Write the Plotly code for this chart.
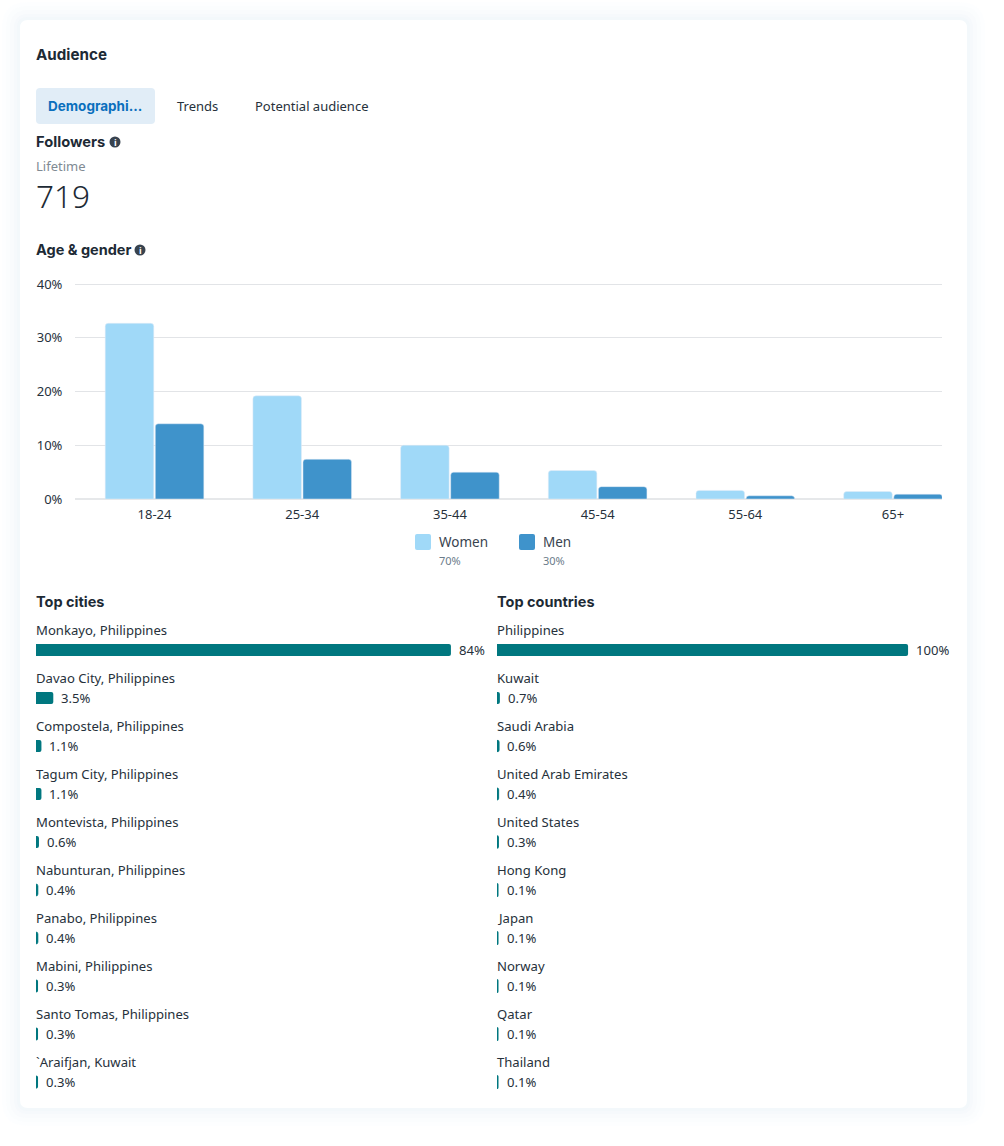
import plotly.graph_objects as go

W, H = 1004, 1146

age_groups = ["18-24", "25-34", "35-44", "45-54", "55-64", "65+"]
women = [32.7, 19.2, 10.0, 5.3, 1.6, 1.4]
men = [14.0, 7.4, 5.0, 2.3, 0.6, 0.9]

cities = ["Monkayo, Philippines", "Davao City, Philippines", "Compostela, Philippines",
          "Tagum City, Philippines", "Montevista, Philippines", "Nabunturan, Philippines",
          "Panabo, Philippines", "Mabini, Philippines", "Santo Tomas, Philippines",
          "`Araifjan, Kuwait"]
city_values = [84, 3.5, 1.1, 1.1, 0.6, 0.4, 0.4, 0.3, 0.3, 0.3]
city_labels = ["84%", "3.5%", "1.1%", "1.1%", "0.6%", "0.4%", "0.4%", "0.3%", "0.3%", "0.3%"]

countries = ["Philippines", "Kuwait", "Saudi Arabia", "United Arab Emirates", "United States",
             "Hong Kong", "Japan", "Norway", "Qatar", "Thailand"]
country_values = [100, 0.7, 0.6, 0.4, 0.3, 0.1, 0.1, 0.1, 0.1, 0.1]
country_labels = ["100%", "0.7%", "0.6%", "0.4%", "0.3%", "0.1%", "0.1%", "0.1%", "0.1%", "0.1%"]

TEXT = "#26313b"
BODY = "Noto Sans"
HEAD = "Inter"
TEAL = "#00777f"

CITY_RANGE = 91.1
COUNTRY_RANGE = 110.2
CITY_PX = 450 / CITY_RANGE
COUNTRY_PX = 453 / COUNTRY_RANGE
MIN_BAR = 2.0
STROKE_MIN = 2.6


def px(x):
    return x / W


def py(y):
    return 1 - y / H


def round_rect(x0, y0, x1, y1, r):
    return (f"M {px(x0+r)} {py(y0)} L {px(x1-r)} {py(y0)} Q {px(x1)} {py(y0)} {px(x1)} {py(y0+r)} "
            f"L {px(x1)} {py(y1-r)} Q {px(x1)} {py(y1)} {px(x1-r)} {py(y1)} "
            f"L {px(x0+r)} {py(y1)} Q {px(x0)} {py(y1)} {px(x0)} {py(y1-r)} "
            f"L {px(x0)} {py(y0+r)} Q {px(x0)} {py(y0)} {px(x0+r)} {py(y0)} Z")


def pad_for_min_width(values, scale, minimum=MIN_BAR):
    return [max(0.0, minimum - v * scale) for v in values]


fig = go.Figure()

fig.add_trace(go.Bar(name="Women", x=age_groups, y=women, marker_color="#a0d9f8",
                     xaxis="x", yaxis="y", showlegend=False))
fig.add_trace(go.Bar(name="Men", x=age_groups, y=men, marker_color="#3f93cb",
                     xaxis="x", yaxis="y", showlegend=False))
fig.add_trace(go.Bar(name="Top cities", y=cities, x=city_values, orientation="h",
                     marker=dict(color=TEAL, cornerradius=2,
                                 line=dict(color=TEAL, width=pad_for_min_width(city_values, CITY_PX, STROKE_MIN))),
                     width=0.25, xaxis="x2", yaxis="y2", showlegend=False))
fig.add_trace(go.Bar(name="Top countries", y=countries, x=country_values, orientation="h",
                     marker=dict(color=TEAL, cornerradius=2,
                                 line=dict(color=TEAL, width=pad_for_min_width(country_values, COUNTRY_PX, STROKE_MIN))),
                     width=0.25, xaxis="x3", yaxis="y3", showlegend=False))

shapes = []
for grow, op in [(18, 0.07), (14, 0.08), (10, 0.10), (6, 0.12), (3, 0.16)]:
    shapes.append(dict(type="path", path=round_rect(20 - grow, 20 - grow, 967 + grow, 1108 + grow, 8 + grow),
                       xref="paper", yref="paper", fillcolor=f"rgba(232,240,248,{op})",
                       line_width=0, layer="below"))
shapes.append(dict(type="path", path=round_rect(20, 20, 967, 1108, 8), xref="paper", yref="paper",
                   fillcolor="#ffffff", line_width=0, layer="below"))
shapes.append(dict(type="path", path=round_rect(36, 88, 155, 124, 4), xref="paper", yref="paper",
                   fillcolor="#e1edf7", line_width=0, layer="below"))
for x0, c in [(415, "#a0d9f8"), (519, "#3f93cb")]:
    shapes.append(dict(type="path", path=round_rect(x0, 534, x0 + 16, 550, 2), xref="paper", yref="paper",
                       fillcolor=c, line_width=0, layer="below"))

annotations = []


def label(x, y, text, size=13, color=TEXT, family=BODY, weight=None, anchor="left"):
    annotations.append(dict(xref="paper", yref="paper", x=px(x), y=py(y), text=text, showarrow=False,
                            xanchor=anchor, yanchor="middle", align="left",
                            font=dict(size=size, color=color, family=family, weight=weight or "normal"),
                            borderpad=0, borderwidth=0))


def info_icon(cx, cy):
    shapes.append(dict(type="circle", xref="paper", yref="paper", x0=px(cx - 5.5), x1=px(cx + 5.5),
                       y0=py(cy + 5.5), y1=py(cy - 5.5), fillcolor="#38434f", line_width=0))
    label(cx, cy, "i", size=9, color="#ffffff", family=BODY, weight=700, anchor="center")


label(36, 55, "Audience", 15.2, "#1d2a35", HEAD, 700)
label(48, 106, "Demographi...", 13.5, "#0a6fbd", HEAD, 700)
label(176.5, 106, "Trends", 13, TEXT)
label(254.5, 106, "Potential audience", 13, TEXT)
label(36, 142, "Followers", 14.7, "#1d2a35", HEAD, 700)
info_icon(115, 142)
label(36, 166, "Lifetime", 13, "#808a93")
label(36, 195.5, "719", 31.5, "#1d2a35", BODY, 300)
label(36, 249, "Age &amp; gender", 14.5, "#1d2a35", HEAD, 700)
info_icon(140, 250)
label(439, 542, "Women", 13.5, "#38434f")
label(439, 560, "70%", 11, "#6b7c8a")
label(543, 542, "Men", 13.5, "#38434f")
label(543, 560, "30%", 11, "#6b7c8a")
label(36, 601, "Top cities", 14.5, "#1d2a35", HEAD, 700)
label(497, 601, "Top countries", 14.5, "#1d2a35", HEAD, 700)

for names, values, texts, xa, ya, scale in [(cities, city_values, city_labels, "x2", "y2", CITY_PX),
                                            (countries, country_values, country_labels, "x3", "y3", COUNTRY_PX)]:
    pads = pad_for_min_width(values, scale)
    for name, value, text, pad in zip(names, values, texts, pads):
        annotations.append(dict(xref=xa, yref=ya, x=0, y=name, text=name, showarrow=False, xanchor="left",
                                yanchor="middle", yshift=20, xshift=0, borderpad=0, borderwidth=0,
                                font=dict(size=13.1, color=TEXT, family=BODY)))
        annotations.append(dict(xref=xa, yref=ya, x=value, y=name, text=text, showarrow=False, xanchor="left",
                                yanchor="middle", xshift=8 + pad, borderpad=0, borderwidth=0,
                                font=dict(size=13.1, color=TEXT, family=BODY)))

fig.update_layout(
    width=W, height=H, autosize=False,
    margin=dict(l=0, r=0, t=0, b=0, pad=0),
    paper_bgcolor="#ffffff", plot_bgcolor="rgba(0,0,0,0)",
    barmode="group", bargap=0.322, bargroupgap=0.03, barcornerradius=3,
    font=dict(family=BODY, size=13, color=TEXT),
    shapes=shapes, annotations=annotations,
    xaxis=dict(domain=[px(75), px(942)], anchor="y", type="category", categoryorder="array",
               categoryarray=age_groups, range=[-0.5384, 5.3316], showgrid=False, automargin=False,
               showline=False, ticks="outside", ticklen=3, tickcolor="rgba(0,0,0,0)",
               tickfont=dict(size=13, color=TEXT, family=BODY), zeroline=False),
    yaxis=dict(domain=[py(499), py(282.93)], anchor="x", range=[0, 40.2], tickvals=[0, 10, 20, 30, 40],
               automargin=False,
               ticktext=["0%", "10%", "20%", "30%", "40%"], showgrid=True, gridcolor="#e2e4e7", gridwidth=1,
               zeroline=True, zerolinecolor="#e6e8ea", zerolinewidth=2, showline=False, ticks="outside",
               ticklen=9, tickcolor="rgba(0,0,0,0)", tickfont=dict(size=13, color=TEXT, family=BODY)),
    xaxis2=dict(domain=[px(36), px(486)], anchor="y2", range=[0, CITY_RANGE], visible=False, automargin=False),
    yaxis2=dict(domain=[py(1106), py(626)], anchor="x2", type="category", categoryorder="array",
                categoryarray=cities, range=[9.5, -0.5], visible=False, automargin=False),
    xaxis3=dict(domain=[px(497), px(950)], anchor="y3", range=[0, COUNTRY_RANGE], visible=False, automargin=False),
    yaxis3=dict(domain=[py(1106), py(626)], anchor="x3", type="category", categoryorder="array",
                categoryarray=countries, range=[9.5, -0.5], visible=False, automargin=False),
)

fig.write_html("out.html", post_script="document.body.style.margin='0';document.body.style.overflow='hidden';",
               config={"displayModeBar": False})
